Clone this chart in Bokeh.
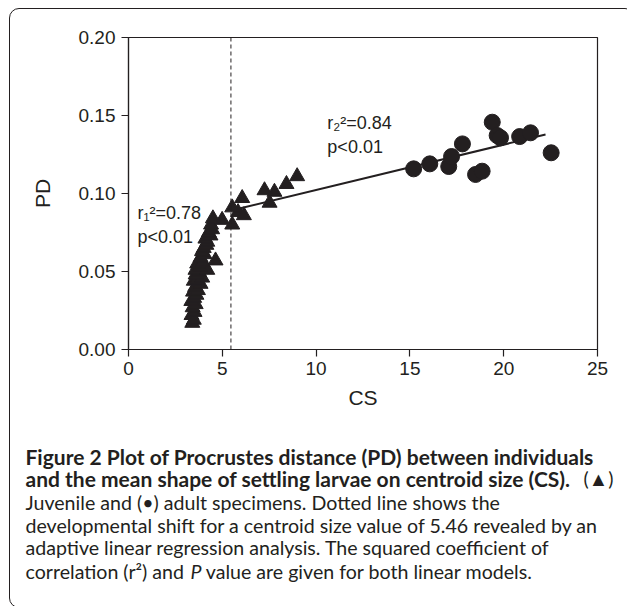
from bokeh.plotting import figure
from bokeh.models import (Range1d, FixedTicker, PrintfTickFormatter, Span, Label,
                          ColumnDataSource)
from bokeh.embed import file_html
from bokeh.resources import INLINE

# ---------------- data ----------------
juv_cs = [3.40, 3.48, 3.36, 3.52, 3.42, 3.58, 3.35, 3.50, 3.62, 3.44, 3.70, 3.55,
          3.84, 3.48, 3.66, 3.93, 3.58, 3.74, 3.57, 4.20, 3.80, 3.66, 3.95, 4.64,
          3.84, 4.05, 3.92, 4.01, 4.15, 4.20, 4.10, 4.37, 4.28, 4.46, 4.40, 4.50,
          4.99, 5.53, 5.84, 6.15, 5.53, 6.06, 7.52, 7.25, 7.78, 8.42, 8.99]
juv_pd = [0.017, 0.019, 0.022, 0.024, 0.027, 0.029, 0.031, 0.033, 0.035, 0.037, 0.038, 0.040,
          0.042, 0.044, 0.045, 0.046, 0.048, 0.050, 0.051, 0.051, 0.053, 0.055, 0.056, 0.057,
          0.059, 0.061, 0.063, 0.065, 0.067, 0.069, 0.071, 0.073, 0.075, 0.077, 0.080, 0.084,
          0.083, 0.080, 0.088, 0.086, 0.091, 0.097, 0.094, 0.102, 0.101, 0.106, 0.111]

adult_cs = [15.20, 16.06, 17.07, 17.22, 17.80, 18.50, 18.85, 19.39, 19.65, 19.83,
            20.85, 21.43, 22.53]
adult_pd = [0.1158, 0.1190, 0.1173, 0.1237, 0.1318, 0.1122, 0.1143, 0.1457, 0.1372,
            0.1357, 0.1365, 0.1389, 0.1261]

shift_cs = 5.46
fit_cs = [5.46, 22.23]
fit_pd = [0.0891, 0.1378]

x_ticks = [0, 5, 10, 15, 20, 25]
y_ticks = [0.00, 0.05, 0.10, 0.15, 0.20]
x_title = "CS"
y_title = "PD"

juv_stats = ["r\u2081\u00b2=0.78", "p<0.01"]
adult_stats = ["r\u2082\u00b2=0.84", "p<0.01"]

caption_bold = ["Figure 2 Plot of Procrustes distance (PD) between individuals",
                "and the mean shape of settling larvae on centroid size (CS)."]
caption_sym = "(\u25b2)"
caption_plain = ["Juvenile and (\u2022) adult specimens. Dotted line shows the",
                 "developmental shift for a centroid size value of 5.46 revealed by an",
                 "adaptive linear regression analysis. The squared coefficient of"]
caption_last = ["correlation (r\u00b2) and", "P", "value are given for both linear models."]

INK = "#231f20"
W, H = 627, 606

# rounded page frame drawn by CSS (decoration only)
frame_css = (":host { position: relative; overflow: hidden; }"
             ":host::after { content: ''; position: absolute; left: 9px; top: 8px;"
             " width: 626px; height: 600px; box-sizing: border-box;"
             " border: 1.3px solid #231f20; border-radius: 10px; pointer-events: none; }")

p = figure(width=W, height=H, output_backend="svg", toolbar_location=None,
           x_range=Range1d(0, 25), y_range=Range1d(0, 0.20),
           min_border_left=128, min_border_right=30, min_border_top=37,
           min_border_bottom=257, stylesheets=[frame_css])
p.background_fill_color = "white"
p.border_fill_color = "white"
p.grid.visible = False
p.outline_line_color = INK
p.outline_line_width = 1.2

for ax in (p.xaxis[0], p.yaxis[0]):
    ax.axis_line_color = INK
    ax.axis_line_width = 1.2
    ax.major_tick_line_color = INK
    ax.major_tick_line_width = 1.2
    ax.major_tick_out = 7
    ax.major_tick_in = 0
    ax.minor_tick_line_color = None
    ax.major_label_text_font = "Liberation Sans"
    ax.major_label_text_font_size = "19px"
    ax.major_label_text_color = INK
    ax.axis_label_text_font = "Liberation Sans"
    ax.axis_label_text_font_size = "21px"
    ax.axis_label_text_font_style = "normal"
    ax.axis_label_text_color = INK

p.xaxis.ticker = FixedTicker(ticks=x_ticks)
p.yaxis.ticker = FixedTicker(ticks=y_ticks)
p.yaxis.formatter = PrintfTickFormatter(format="%.2f")
p.xaxis.axis_label = x_title
p.yaxis.axis_label = y_title
p.xaxis.major_label_standoff = 5
p.yaxis.major_label_standoff = 6
p.xaxis.axis_label_standoff = 8
p.yaxis.axis_label_standoff = 22

p.add_layout(Span(location=shift_cs, dimension="height", line_color=INK,
                  line_width=1, line_dash="4 3"))
p.line(fit_cs, fit_pd, line_color=INK, line_width=2)

juv_src = ColumnDataSource(dict(cs=juv_cs, pd=juv_pd))
adult_src = ColumnDataSource(dict(cs=adult_cs, pd=adult_pd))
p.scatter("cs", "pd", source=juv_src, marker="triangle", size=15,
          fill_color=INK, line_color=INK)
p.scatter("cs", "pd", source=adult_src, marker="circle", size=16,
          fill_color=INK, line_color=INK)

stat_font = dict(text_font="Liberation Sans", text_font_size="18px",
                 text_color=INK, text_baseline="middle")
for txt, yv in zip(juv_stats, [0.0872, 0.0718]):
    p.add_layout(Label(x=0.48, y=yv, text=txt, **stat_font))
for txt, yv in zip(adult_stats, [0.1449, 0.1301]):
    p.add_layout(Label(x=10.6, y=yv, text=txt, **stat_font))

# caption: labels live in side panels so they are not clipped to the frame
bold = dict(text_font="Lato", text_font_size="21px", text_font_style="bold",
            text_color=INK, text_baseline="alphabetic")
plain = dict(text_font="Lato", text_font_size="19.6px", text_color=INK,
             text_baseline="alphabetic")
cap_y = [-0.0689, -0.0830, -0.0978, -0.1125, -0.1272, -0.1426]
x_left = -5.49
p.add_layout(Label(x=x_left, y=cap_y[0], text=caption_bold[0], **bold), "below")
p.add_layout(Label(x=x_left, y=cap_y[1], text=caption_bold[1], **bold), "below")
p.add_layout(Label(x=25.85, y=cap_y[1], text=caption_sym, text_align="right", **plain), "above")
for i, txt in enumerate(caption_plain):
    p.add_layout(Label(x=x_left, y=cap_y[2 + i], text=txt, **plain), "below")
p.add_layout(Label(x=x_left, y=cap_y[5], text=caption_last[0], **plain), "below")
p.add_layout(Label(x=3.30, y=cap_y[5], text=caption_last[1],
                   **dict(plain, text_font_style="italic")), "left")
p.add_layout(Label(x=4.12, y=cap_y[5], text=caption_last[2], **plain), "below")

open("out.html", "w").write(file_html(p, INLINE))
